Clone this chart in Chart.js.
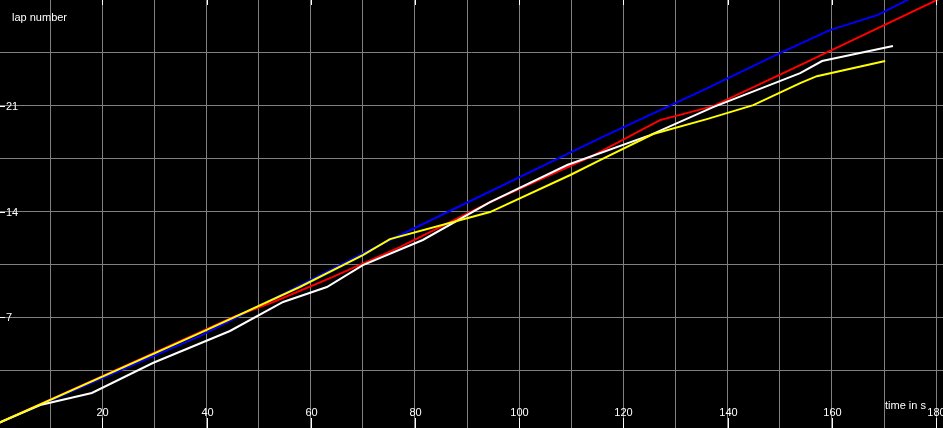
<!DOCTYPE html>
<html>
<head>
<meta charset="utf-8">
<script src="https://cdn.jsdelivr.net/npm/chart.js@4.4.1/dist/chart.umd.min.js"></script>
<style>
    body { margin: 0; background: #000; }
    #wrap { width: 943px; height: 428px; background: #000; }
</style>
</head>
<body>
<div id="wrap"><canvas id="lapChart" width="943" height="428"></canvas></div>
<script>
// time in s / lap number at the visible bends
const blueTime = [0, 38.8, 75.2, 115.5, 135.3, 150.0, 159.6, 168.7, 174.4, 181.3];
const blueLap = [0, 5.77, 12.12, 18.86, 22.04, 24.48, 26.01, 27.0, 27.99, 29.18];

const redTime = [0, 45.1, 52.8, 63.7, 77.1, 94.4, 113.6, 127.0, 137.2, 153.9, 181.3];
const redLap = [0, 7.02, 8.02, 9.6, 11.65, 14.63, 17.61, 20.05, 20.98, 23.69, 28.19];

const whiteTime = [0, 8.1, 18.0, 29.7, 44.5, 54.7, 63.1, 70.0, 81.5, 94.4, 109.2, 125.1, 137.2, 153.9, 158.1, 171.7];
const whiteLap = [0, 1.2, 2.0, 3.98, 6.1, 8.02, 9.01, 10.46, 12.12, 14.63, 17.08, 19.06, 20.91, 23.16, 23.96, 24.95];

const yellowTime = [0, 38.8, 57.9, 70.0, 75.2, 94.4, 109.8, 115.5, 125.7, 136.0, 144.9, 153.9, 157.1, 170.2];
const yellowLap = [0, 5.97, 9.01, 11.12, 12.18, 13.97, 16.42, 17.41, 19.13, 20.12, 21.04, 22.5, 22.96, 23.96];

const xTickLabels = [20, 40, 60, 80, 100, 120, 140, 160, 180];
const yTickLabels = [7, 14, 21];
const xGrid = [10, 20, 30, 40, 50, 60, 70, 80, 90, 100, 110, 120, 130, 140, 150, 160, 170, 180];
const yGrid = [3.5, 7, 10.5, 14, 17.5, 21, 24.5];

function toPoints(times, laps) {
    return times.map((t, i) => ({ x: t, y: laps[i] }));
}

function lineSet(label, times, laps, color) {
    return {
        label: label,
        data: toPoints(times, laps),
        borderColor: color,
        borderWidth: 2,
        pointRadius: 0,
        tension: 0,
        fill: false
    };
}

// labels drawn by hand, inside the plot like the original
const axisText = {
    id: 'axisText',
    afterDraw(chart) {
        const ctx = chart.ctx;
        const xs = chart.scales.x;
        const ys = chart.scales.y;
        const h = chart.height;
        ctx.save();
        ctx.font = '11px "Liberation Sans", Arial, sans-serif';
        ctx.fillStyle = '#ffffff';
        ctx.strokeStyle = '#ffffff';
        ctx.lineWidth = 1;

        ctx.textAlign = 'left';
        ctx.textBaseline = 'middle';
        yTickLabels.forEach(v => {
            const py = Math.round(ys.getPixelForValue(v)) + 0.5;
            ctx.beginPath();
            ctx.moveTo(0, py);
            ctx.lineTo(5, py);
            ctx.stroke();
            ctx.fillText(String(v), 6, py);
        });

        ctx.textAlign = 'center';
        xTickLabels.forEach(v => {
            const px = Math.round(xs.getPixelForValue(v)) + 0.5;
            ctx.beginPath();
            ctx.moveTo(px, h - 10);
            ctx.lineTo(px, h);
            ctx.moveTo(px, 0);
            ctx.lineTo(px, 5);
            ctx.stroke();
            ctx.fillText(String(v), px, h - 15);
        });

        ctx.textAlign = 'left';
        ctx.fillText('lap number', 12, 18);
        ctx.fillText('time in s', 885, h - 22);
        ctx.restore();
    }
};

const ctxLap = document.getElementById('lapChart').getContext('2d');

new Chart(ctxLap, {
    type: 'line',
    data: {
        datasets: [
            lineSet('yellow', yellowTime, yellowLap, '#ffff00'),
            lineSet('white', whiteTime, whiteLap, '#ffffff'),
            lineSet('red', redTime, redLap, '#ff0000'),
            lineSet('blue', blueTime, blueLap, '#0000ff')
        ]
    },
    options: {
        responsive: false,
        animation: false,
        layout: { padding: 0 },
        plugins: {
            legend: { display: false },
            tooltip: { enabled: false }
        },
        scales: {
            x: {
                type: 'linear',
                min: 0.38,
                max: 181.3,
                afterBuildTicks: scale => { scale.ticks = xGrid.map(v => ({ value: v })); },
                ticks: { display: false },
                grid: { color: '#808080', lineWidth: 1, drawTicks: false },
                border: { display: false }
            },
            y: {
                type: 'linear',
                min: -0.32,
                max: 28,
                afterBuildTicks: scale => { scale.ticks = yGrid.map(v => ({ value: v })); },
                ticks: { display: false },
                grid: { color: '#808080', lineWidth: 1, drawTicks: false },
                border: { display: false }
            }
        }
    },
    plugins: [axisText]
});
</script>
</body>
</html>
